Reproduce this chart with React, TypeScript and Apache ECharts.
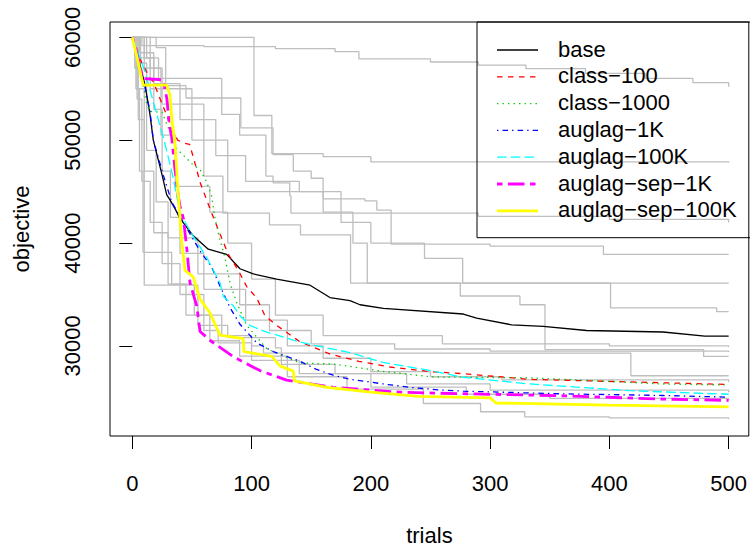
import React, { useEffect, useRef } from "react";
import * as echarts from "echarts";

// ---------- data ----------
const seriesNames = ["base", "class\u2212100", "class\u22121000", "auglag\u22121K", "auglag\u2212100K", "auglag\u2212sep\u22121K", "auglag\u2212sep\u2212100K"];
const xTicks = [0, 100, 200, 300, 400, 500];
const yTicks = [30000, 40000, 50000, 60000];

const base = [[0,60000],[5,58000],[10.7,55350],[14.8,52500],[17.6,50000],[24.6,46800],[28.8,44700],[31.6,44200],[35.8,43350],[40,42400],[51.1,40700],[63.7,39400],[79.1,38900],[90.3,37500],[101.4,37000],[121,36500],[149,35900],[165.7,34700],[182.5,34400],[190.9,34000],[210.5,33650],[277.5,33100],[288.7,32700],[318,32050],[344.6,31900],[380.9,31500],[445,31350],[480,30960],[500,30960]];
const class100 = [[0,60000],[8,57500],[15,56000],[17.6,55700],[23,54100],[32,51500],[38,50000],[44,49700],[48,49600],[52,48000],[56.8,45900],[65.1,43350],[72.1,41300],[80.5,38900],[88.9,37340],[95.9,35770],[104.3,34660],[111.2,32930],[121,32000],[140.6,30400],[166,29200],[190,28500],[216,27950],[250,27500],[277.5,27300],[333,26750],[417,26500],[500,26250]];
const class1000 = [[0,60000],[5,58000],[12,53500],[15,52800],[25,52700],[37,49200],[50,47700],[57,47100],[62,46000],[66.5,44600],[69.3,42400],[73,40500],[77.7,38600],[81.9,36100],[87.5,34200],[95.9,32000],[104,30900],[113,29700],[140.6,28340],[168.5,28240],[213,27480],[252,26980],[333,26900],[445,26300],[500,26200]];
const auglag1K = [[0,60000],[3,58500],[10,55500],[14.8,52850],[17.6,50000],[26,46600],[33,44000],[45.6,41450],[56.7,39250],[66.6,37650],[73.6,35800],[82,33700],[90.3,32100],[104.3,30300],[118.2,29450],[140.6,28500],[154.6,27710],[168.5,27150],[182.5,26760],[210.4,26300],[232.8,25970],[258,25720],[277.5,25600],[361,25340],[445,25180],[500,25020]];
const auglag100K = [[0,60000],[5,58500],[10.7,56600],[19,53150],[26,50300],[33,47000],[40,43000],[48.4,41150],[62.4,38600],[73.6,36100],[76.3,34820],[84.7,33900],[90.3,32930],[98.7,31980],[112.7,31340],[135,30560],[151.7,30080],[182.5,29350],[210,28400],[250,27600],[277.5,26950],[333,26300],[417,25650],[500,25300]];
const auglagSep1K = [[0,60000],[2.5,59100],[4.8,57900],[9,56000],[21.8,55900],[26,55800],[29,54000],[31,51500],[33,50300],[35.8,47150],[38.5,44600],[40,43600],[42.8,42400],[45.6,39560],[48.4,36100],[54,33900],[56.8,31400],[65,30550],[84.7,28950],[107,27600],[129.4,26670],[168.5,25970],[224.4,25500],[257.9,25400],[361,25150],[445,24830],[500,24700]];
const auglagSep100K = [[0,60000],[3.7,58200],[7.9,56000],[9.2,55350],[28.8,55350],[31.6,54400],[33,52200],[35.8,49650],[38.6,44600],[41.4,40200],[44.2,37350],[51.1,36700],[55.3,35100],[57,34500],[65,33250],[73.5,31050],[93,30700],[93.5,29450],[117,28980],[124,28030],[135,27550],[136,26610],[163,25970],[200,25500],[240,25100],[300,24950],[305,24450],[400,24250],[500,24070]];

// individual runs (best-so-far step curves)
const run01 = [[0,60000],[8,59200],[60,59100],[120,58900],[170,58600],[190,57900],[250,57600],[290,57300],[330,56950],[380,56500],[430,56000],[470,55600],[500,55200]];
const run02 = [[0,60000],[102,52400],[117,48700],[160,48400],[200,47900],[500,47800]];
const run03 = [[0,60000],[20,59000],[28,55300],[45,54100],[91,51200],[118,48600],[135,47000],[150,46300],[160,44300],[195,44100],[205,43200],[217,39900],[300,39700],[395,38900],[500,38900]];
const run04 = [[0,60000],[12,58000],[22,56000],[75,52500],[90,50500],[112,46500],[118,45850],[132,44600],[133,42900],[290,42600],[400,42300],[500,42000]];
const run05 = [[0,60000],[10,57000],[25,53500],[60,46500],[76,42900],[115,41760],[141,40800],[183,36100],[275,34850],[325,34000],[346,29640],[479,28980],[500,28980]];
const run06 = [[0,60000],[5,58000],[15,55000],[50,50000],[80,45000],[160,43000],[185,40000],[197,36100],[401,33700],[490,33330],[500,33330]];
const run07 = [[0,60000],[6,58500],[18,55500],[40,52000],[70,48500],[95,46000],[140,45000],[175,42000],[200,40000],[245,38500],[277,36100],[500,36100]];
const run08 = [[0,60000],[3,55000],[6,47000],[9,39100],[32,39100],[33,36000],[50,35900],[52,33000],[75,31000],[100,30000],[110,29300],[417,29300],[418,27100],[500,27100]];
const run09 = [[0,60000],[2,57000],[5,52000],[10,35900],[50,35900],[55,32000],[80,30800],[120,29800],[125,28200],[170,27300],[230,26300],[300,25700],[500,25500]];
const run10 = [[0,60000],[4,54000],[8,46000],[15,42000],[25,38000],[40,35000],[60,31500],[72,30300],[100,28600],[140,27300],[200,26000],[280,25300],[350,24900],[500,24800]];
const run11 = [[0,60000],[4,55000],[10,47000],[18,41000],[30,36000],[45,33000],[65,30500],[90,29000],[130,27000],[180,25800],[244,24400],[292,23600],[329,23100],[400,23000],[500,22900]];
const run12 = [[0,60000],[10,58000],[18,53000],[25,47000],[32,42500],[40,39000],[60,35500],[95,32500],[130,30000],[160,28800],[200,27500],[250,27000],[310,26700],[500,26500]];
const run13 = [[0,60000],[7,57500],[12,49000],[20,44000],[30,40500],[55,37000],[90,34000],[115,31500],[150,30200],[220,29700],[300,29500],[500,29400]];
const run14 = [[0,60000],[15,57000],[24,50500],[36,45500],[65,43000],[80,40000],[100,36500],[120,33000],[160,31000],[260,30200],[400,30000],[500,29900]];

const runs = [run01, run02, run03, run04, run05, run06, run07, run08, run09, run10, run11, run12, run13, run14];
const methods = [base, class100, class1000, auglag1K, auglag100K, auglagSep1K, auglagSep100K];

// ---------- styles ----------
const methodColors = ["#000000", "#FF0000", "#00CD00", "#0000FF", "#00FFFF", "#FF00FF", "#FFFF00"];
const methodDash: any[] = ["solid", [5.5, 5.5], [1.4, 4.1], [1.4, 4.1, 5.5, 4.1], [9.6, 4.1], [5.5, 5.5, 16.5, 5.5], "solid"];
const methodWidth = [1.3, 1.3, 1.3, 1.3, 1.3, 2.8, 2.8];
const FONT = "Liberation Sans, Arial, Helvetica, sans-serif";

export default function App() {
  const ref = useRef<HTMLDivElement>(null);
  useEffect(() => {
    if (!ref.current) return;
    const chart = echarts.init(ref.current, undefined, { renderer: "svg" });

    const series: any[] = [];
    runs.forEach((r, i) => {
      series.push({
        type: "line", name: "run" + (i + 1), data: r, step: "end", symbol: "none", showSymbol: false,
        lineStyle: { color: "#BEBEBE", width: 1.3 }, silent: true, z: 2,
      });
    });
    methods.forEach((m, i) => {
      series.push({
        type: "line", name: seriesNames[i], data: m, symbol: "none", showSymbol: false,
        lineStyle: { color: methodColors[i], width: methodWidth[i], type: methodDash[i], cap: "butt" },
        silent: true, z: 3 + i,
      });
    });

    const legendTop = 22, legendLeft = 477, rowH = 26.8, row0 = 50;
    const graphics: any[] = [
      { type: "rect", z: 100, shape: { x: legendLeft, y: legendTop, width: 300, height: 215.7 }, style: { fill: "none", stroke: "#000", lineWidth: 1 } },
    ];
    seriesNames.forEach((n, i) => {
      const y = row0 + i * rowH;
      graphics.push({ type: "line", z: 100, shape: { x1: 497, y1: y, x2: 538, y2: y },
        style: { stroke: methodColors[i], lineWidth: methodWidth[i], lineDash: methodDash[i] === "solid" ? null : methodDash[i], lineCap: "butt" } });
      graphics.push({ type: "text", z: 100, x: 558, y: y - 1, style: { text: n, fontSize: 22, fontFamily: FONT, fill: "#000", verticalAlign: "middle", align: "left" } });
    });

    chart.setOption({
      animation: false,
      backgroundColor: "#fff",
      grid: { left: 110, top: 22, right: 1, bottom: 104, show: true, borderColor: "#000", borderWidth: 1, backgroundColor: "transparent" },
      xAxis: {
        type: "value", min: -18.7, max: 516.9,
        axisLine: { show: false }, splitLine: { show: false },
        axisTick: { show: true, length: 13, lineStyle: { color: "#000", width: 1 }, customValues: xTicks },
        axisLabel: { customValues: xTicks, margin: 36, fontSize: 22, fontFamily: FONT, color: "#000", formatter: (v: number) => String(v) },
        name: "trials", nameLocation: "middle", nameGap: 88,
        nameTextStyle: { fontSize: 22, fontFamily: FONT, color: "#000" },
      },
      yAxis: {
        type: "value", min: 21242, max: 61488,
        axisLine: { show: false }, splitLine: { show: false },
        axisTick: { show: true, length: 13, lineStyle: { color: "#000", width: 1 }, customValues: yTicks },
        axisLabel: { customValues: yTicks, rotate: 90, margin: 27, fontSize: 22, fontFamily: FONT, color: "#000", formatter: (v: number) => String(v) },
        name: "objective", nameLocation: "middle", nameGap: 78,
        nameTextStyle: { fontSize: 22, fontFamily: FONT, color: "#000" },
      },
      series,
      graphic: graphics,
    });
    return () => chart.dispose();
  }, []);
  return <div ref={ref} style={{ position: "absolute", left: 0, top: 0, width: 750, height: 551 }} />;
}
